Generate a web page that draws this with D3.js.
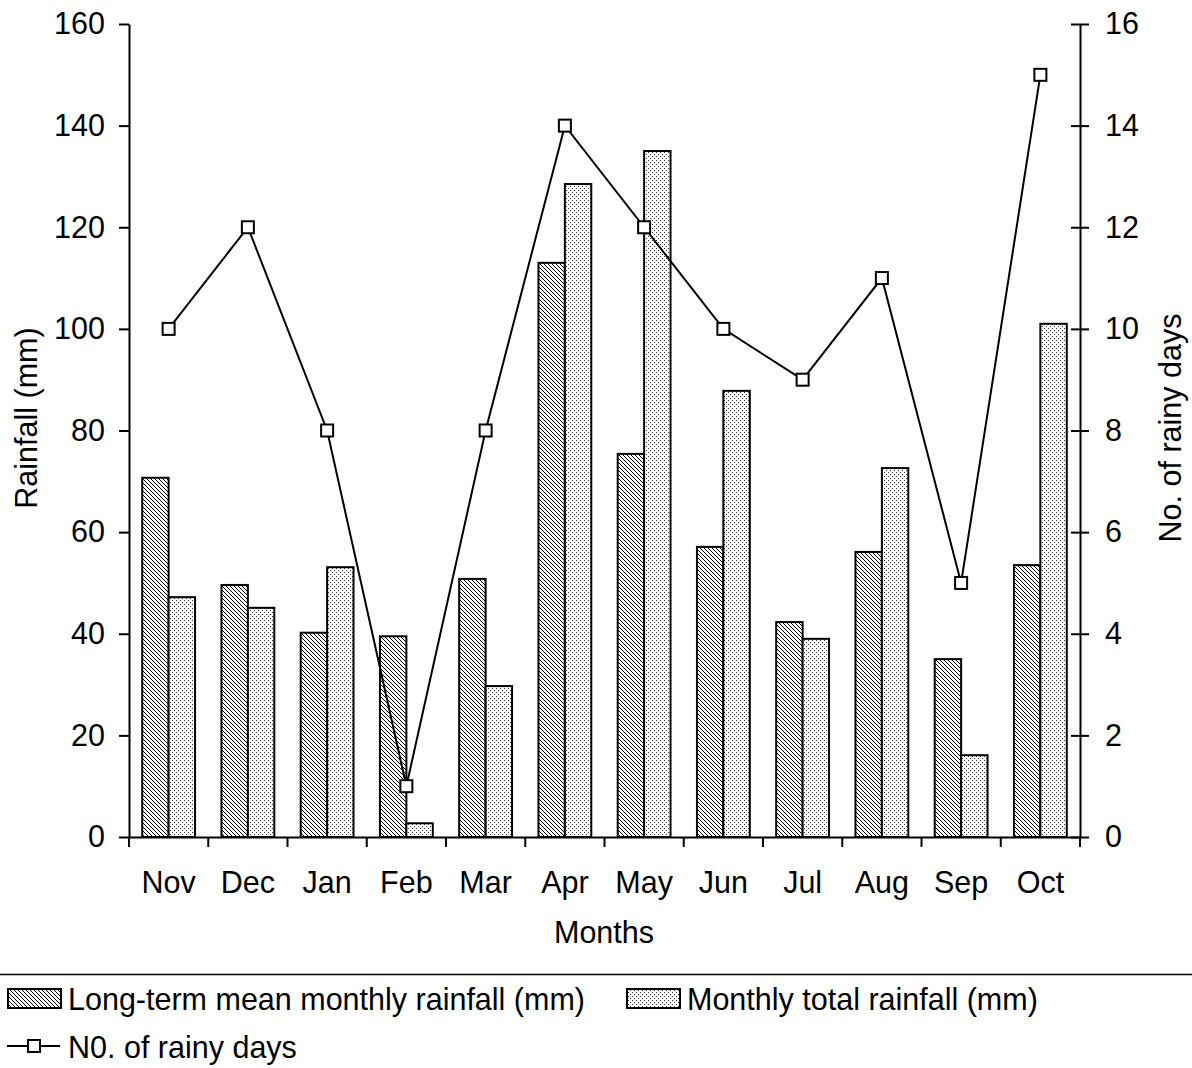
<!DOCTYPE html>
<html>
<head>
<meta charset="utf-8">
<script src="https://cdn.jsdelivr.net/npm/d3@7/dist/d3.min.js"></script>
<style>
  html, body { margin: 0; padding: 0; background: #fff; }
  svg text { font-family: "Liberation Sans", Arial, sans-serif; fill: #000; }
</style>
</head>
<body>
<svg id="chart" width="1192" height="1068"></svg>
<script>
const months = ["Nov","Dec","Jan","Feb","Mar","Apr","May","Jun","Jul","Aug","Sep","Oct"];
const longTermMean = [70.7, 49.6, 40.2, 39.5, 50.8, 113, 75.4, 57.1, 42.3, 56.1, 35, 53.5];
const monthlyTotal = [47.2, 45.1, 53.1, 2.7, 29.7, 128.5, 135, 87.8, 39, 72.6, 16.1, 101];
const rainyDays = [10, 12, 8, 1, 8, 14, 12, 10, 9, 11, 5, 15];
const leftTicks = [0, 20, 40, 60, 80, 100, 120, 140, 160];
const rightTicks = [0, 2, 4, 6, 8, 10, 12, 14, 16];
const seriesNames = ["Long-term mean monthly rainfall (mm)", "Monthly total rainfall (mm)", "N0. of rainy days"];

(function () {
const svg = d3.select("#chart");
const FS = 30.5;
const pL = 129, pR = 1080, pT = 24, pB = 837;

const defs = svg.append("defs");
const hatch = defs.append("pattern").attr("id", "hatch").attr("patternUnits", "userSpaceOnUse")
  .attr("width", 4).attr("height", 4);
hatch.append("rect").attr("width", 4).attr("height", 4).attr("fill", "#fff");
hatch.append("path").attr("d", "M0,0L4,4M-1,3L1,5M3,-1L5,1").attr("stroke", "#000").attr("stroke-width", 1);
const dots = defs.append("pattern").attr("id", "dots").attr("patternUnits", "userSpaceOnUse")
  .attr("width", 4).attr("height", 4);
dots.append("rect").attr("width", 4).attr("height", 4).attr("fill", "#fff");
dots.append("rect").attr("x", 0).attr("y", 0).attr("width", 1).attr("height", 1).attr("fill", "#333");
dots.append("rect").attr("x", 2).attr("y", 2).attr("width", 1).attr("height", 1).attr("fill", "#333");

const x = d3.scaleBand().domain(months).range([pL, pR]).padding(0);
const x1 = d3.scaleBand().domain(["mean", "total"]).range([0, x.bandwidth()]).paddingInner(0).paddingOuter(0.5);
const y = d3.scaleLinear().domain([0, 160]).range([pB, pT]);
const y2 = d3.scaleLinear().domain([0, 16]).range([pB, pT]);

// bars
const g = svg.append("g");
months.forEach((m, i) => {
  g.append("rect").attr("x", x(m) + x1("mean")).attr("y", y(longTermMean[i]))
    .attr("width", x1.bandwidth()).attr("height", y(0) - y(longTermMean[i]))
    .attr("fill", "url(#hatch)").attr("stroke", "#000").attr("stroke-width", 2);
  g.append("rect").attr("x", x(m) + x1("total")).attr("y", y(monthlyTotal[i]))
    .attr("width", x1.bandwidth()).attr("height", y(0) - y(monthlyTotal[i]))
    .attr("fill", "url(#dots)").attr("stroke", "#000").attr("stroke-width", 2);
});

// left axis
const ax = svg.append("g").attr("transform", `translate(${pL},0)`)
  .call(d3.axisLeft(y).tickValues(leftTicks).tickSize(10).tickPadding(14).tickSizeOuter(0));
ax.selectAll("text").style("font-size", FS + "px");
ax.selectAll("path,line").attr("stroke", "#000").attr("stroke-width", 2);

// right axis
const ax2 = svg.append("g").attr("transform", `translate(${pR},0)`)
  .call(d3.axisRight(y2).tickValues(rightTicks).tickSize(9).tickPadding(16).tickSizeOuter(0));
ax2.selectAll("text").style("font-size", FS + "px");
ax2.selectAll("path,line").attr("stroke", "#000").attr("stroke-width", 2);
ax2.selectAll(".tick").append("line").attr("x2", -9).attr("stroke", "#000").attr("stroke-width", 2);

// bottom axis
const ax3 = svg.append("g").attr("transform", `translate(0,${pB})`)
  .call(d3.axisBottom(x).tickSize(0).tickPadding(34).tickSizeOuter(0));
ax3.selectAll("text").style("font-size", FS + "px");
ax3.select(".domain").attr("stroke", "#000").attr("stroke-width", 2);
const bounds = months.map(m => x(m)).concat([pR]);
ax3.selectAll(".bt").data(bounds).enter().append("line").attr("class", "bt")
  .attr("x1", d => d).attr("x2", d => d).attr("y1", 0).attr("y2", 10)
  .attr("stroke", "#000").attr("stroke-width", 2);

// line
const line = d3.line().x((d, i) => x(months[i]) + x.bandwidth() / 2).y(d => y2(d));
svg.append("path").datum(rainyDays).attr("d", line).attr("fill", "none")
  .attr("stroke", "#000").attr("stroke-width", 2);
svg.selectAll(".mk").data(rainyDays).enter().append("rect").attr("class", "mk")
  .attr("x", (d, i) => x(months[i]) + x.bandwidth() / 2 - 6).attr("y", d => y2(d) - 6)
  .attr("width", 12).attr("height", 12).attr("fill", "#fff").attr("stroke", "#000").attr("stroke-width", 2);

// titles
svg.append("text").attr("x", 604).attr("y", 943).attr("text-anchor", "middle")
  .style("font-size", FS + "px").text("Months");
svg.append("text").attr("transform", "translate(37,418) rotate(-90)").attr("text-anchor", "middle")
  .style("font-size", FS + "px").text("Rainfall (mm)");
svg.append("text").attr("transform", "translate(1181,428) rotate(-90)").attr("text-anchor", "middle")
  .style("font-size", FS + "px").text("No. of rainy days");

// legend
svg.append("line").attr("x1", 0).attr("x2", 1192).attr("y1", 974.5).attr("y2", 974.5)
  .attr("stroke", "#000").attr("stroke-width", 1.5);
const lg = svg.append("g");
lg.append("rect").attr("x", 8).attr("y", 989).attr("width", 53).attr("height", 19)
  .attr("fill", "url(#hatch)").attr("stroke", "#000").attr("stroke-width", 2);
lg.append("text").attr("x", 68).attr("y", 1010).style("font-size", FS + "px").text(seriesNames[0]);
lg.append("rect").attr("x", 627).attr("y", 989).attr("width", 53).attr("height", 19)
  .attr("fill", "url(#dots)").attr("stroke", "#000").attr("stroke-width", 2);
lg.append("text").attr("x", 687).attr("y", 1010).style("font-size", FS + "px").text(seriesNames[1]);
lg.append("line").attr("x1", 7).attr("x2", 60).attr("y1", 1046).attr("y2", 1046)
  .attr("stroke", "#000").attr("stroke-width", 2);
lg.append("rect").attr("x", 28).attr("y", 1040).attr("width", 12).attr("height", 12)
  .attr("fill", "#fff").attr("stroke", "#000").attr("stroke-width", 2);
lg.append("text").attr("x", 68).attr("y", 1058).style("font-size", FS + "px").text(seriesNames[2]);
})();
</script>
</body>
</html>
